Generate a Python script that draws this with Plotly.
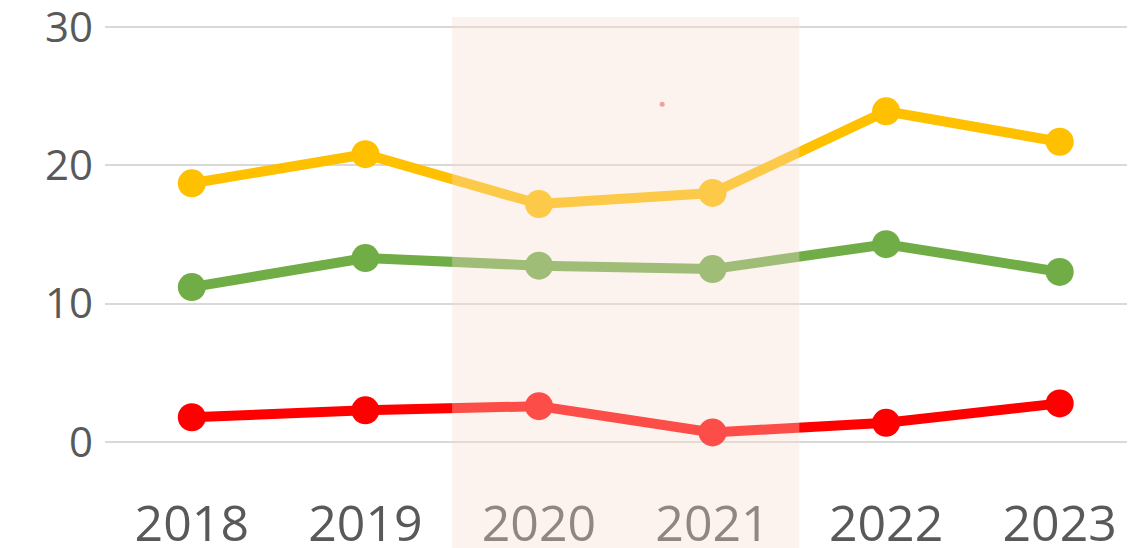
import plotly.graph_objects as go

years = [2018, 2019, 2020, 2021, 2022, 2023]
yellow_vals = [18.7, 20.8, 17.2, 18.0, 23.9, 21.7]
green_vals = [11.2, 13.3, 12.75, 12.5, 14.3, 12.3]
red_vals = [1.8, 2.3, 2.6, 0.7, 1.4, 2.8]
stray_x = [2020.71]
stray_y = [24.4]
tick_vals = [0, 10, 20, 30]
highlight = [2019.5, 2021.5]

fig = go.Figure()
for vals, col in [(yellow_vals, "#FFC000"), (green_vals, "#70AD47"), (red_vals, "#FF0000")]:
    fig.add_trace(go.Scatter(x=years, y=vals, mode="lines+markers",
                             line=dict(color=col, width=10),
                             marker=dict(color=col, size=28),
                             showlegend=False, hoverinfo="skip"))
fig.add_trace(go.Scatter(x=stray_x, y=stray_y, mode="markers",
                         marker=dict(color="#F08080", size=5),
                         showlegend=False, hoverinfo="skip"))

fig.add_shape(type="rect", xref="x", yref="paper",
              x0=highlight[0], x1=highlight[1], y0=-0.25, y1=0.991,
              fillcolor="rgba(246,220,205,0.35)", line=dict(width=0),
              layer="above")

fig.update_layout(
    width=1135, height=548,
    margin=dict(l=97, r=0, t=5, b=100, autoexpand=False),
    plot_bgcolor="white", paper_bgcolor="white",
    font=dict(family="Open Sans", color="#595959"),
    xaxis=dict(range=[2017.5, 2023.48], tickvals=years,
               ticktext=[str(y) for y in years],
               showgrid=False, zeroline=False, showline=False,
               tickfont=dict(size=50, color="#595959"),
               ticks="", ticklabelstandoff=34, automargin=False,
               ticklabeloverflow="allow"),
    yaxis=dict(range=[-1, 31], tickvals=tick_vals,
               showgrid=True, gridcolor="#D9D9D9", gridwidth=2,
               zeroline=False, showline=False,
               tickfont=dict(size=42, color="#595959"),
               ticks="", ticklabelstandoff=11, automargin=False,
               ticklabeloverflow="allow"),
)
fig.write_html("out.html")
